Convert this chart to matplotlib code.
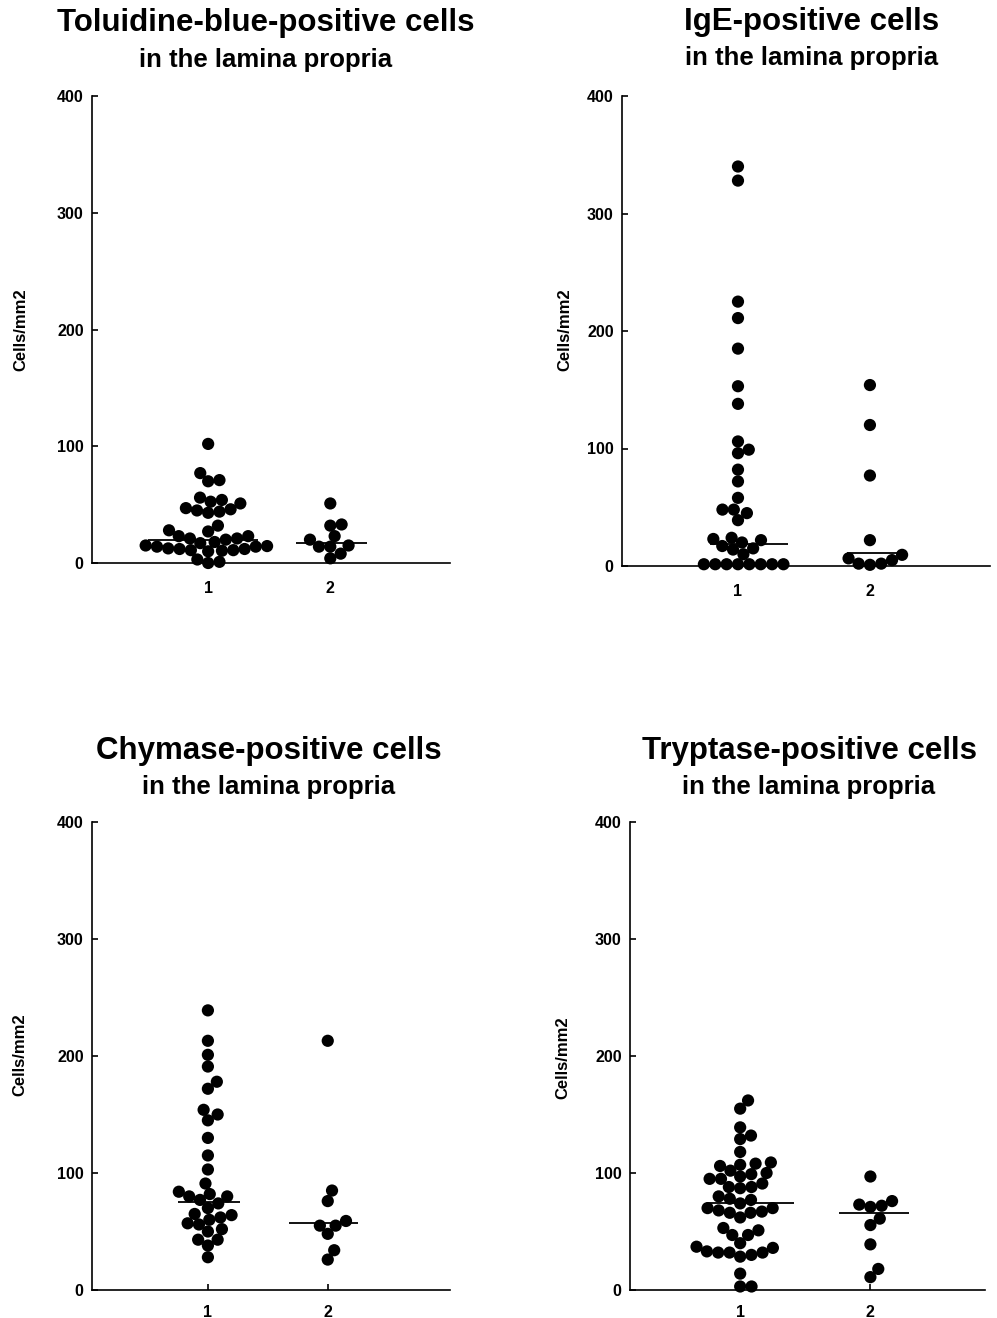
import numpy as np
import matplotlib
matplotlib.use("Agg")
import matplotlib.pyplot as plt

plt.rcParams['font.family'] = ['Liberation Sans', 'DejaVu Sans']
plt.rcParams['font.weight'] = 'bold'

# ---------------- data (cells/mm2) ----------------
categories = [1, 2]
tick_labels = ["1", "2"]
y_ticks = [0, 100, 200, 300, 400]

titles = ["Toluidine-blue-positive cells", "IgE-positive cells",
          "Chymase-positive cells", "Tryptase-positive cells"]
subtitle = "in the lamina propria"
ylabel = "Cells/mm2"

tb_group1 = [102, 77, 71, 70, 56, 54, 52.5, 51, 47, 46, 45, 44, 43, 32, 28, 27,
             23, 23, 21, 21, 20, 18, 17, 15, 14.5, 14, 14, 12.5, 12, 12, 11, 11,
             10.5, 10, 3, 1, 0]
tb_group2 = [51, 33, 32, 23, 20, 15, 14, 14, 8, 4]
tb_lines = [20, 17]

ige_group1 = [340, 328, 225, 211, 185, 153, 138, 106, 99, 96, 82, 72, 58, 48, 48,
              45, 39, 24, 23, 22, 20, 17, 15, 14, 10, 1.5, 1.5, 1.5, 1.5, 1.5,
              1.5, 1.5, 1.5]
ige_group2 = [154, 120, 77, 22, 9.5, 6.5, 5, 2, 2, 1]
ige_lines = [19, 11]

chy_group1 = [239, 213, 201, 191, 178, 172, 154, 150, 145, 130, 115, 103, 91, 84,
              82, 80, 80, 77, 74, 70, 65, 64, 62, 60, 57, 56, 52, 50, 43, 43, 38, 28]
chy_group2 = [213, 85, 76, 59, 55, 55, 48, 34, 26]
chy_lines = [75, 57]

try_group1 = [162, 155, 139, 132, 129, 118, 109, 108, 107, 106, 102, 100, 99, 97,
              95, 95, 91, 88, 88, 87, 80, 78, 77, 74, 70, 70, 68, 67, 66, 66, 62,
              53, 51, 47, 47, 40, 37, 36, 33, 32, 32, 32, 30, 28.5, 14, 3, 3]
try_group2 = [97, 76, 73, 72, 71, 61, 55.5, 39, 18, 11]
try_lines = [74, 65.5]

panels_data = [
    (tb_group1, tb_group2, tb_lines),
    (ige_group1, ige_group2, ige_lines),
    (chy_group1, chy_group2, chy_lines),
    (try_group1, try_group2, try_lines),
]

# ---------------- layout / style ----------------
W, H = 997, 1318
fig = plt.figure(figsize=(W / 100, H / 100), dpi=100)

# axes rectangles in pixels: (left, top, right, bottom)
rects_px = [(92, 96, 450, 563), (622, 96, 990, 566),
            (92, 822, 450, 1290), (630, 822, 985, 1290)]
xlims = [(0.049, 2.98), (0.121, 2.91), (0.033, 3.02), (0.154, 2.88)]
# median line extents (left, right) relative to category centre
line_ext = [[(-0.49, 0.41), (-0.28, 0.30)],
            [(-0.21, 0.38), (-0.17, 0.22)],
            [(-0.25, 0.27), (-0.32, 0.25)],
            [(-0.25, 0.41), (-0.24, 0.30)]]
title_pos = [(266, 31, 67), (812, 30, 65), (269, 759, 794), (809, 759, 794)]
ylabel_pos = [(21, 330), (565, 330), (20, 1055), (563, 1058)]
xpad = [13, 13, 10.5, 10.5]

dot_pt = 8.8
dot_px = dot_pt * 100 / 72.0


def swarm_offsets(ax, values, center, diam):
    pts = np.column_stack([np.full(len(values), center), values])
    ys = ax.transData.transform(pts)[:, 1]
    order = np.argsort(ys, kind="stable")
    placed = []
    xs = np.zeros(len(values))
    d2 = (0.93 * diam) ** 2
    for i in order:
        y = ys[i]
        cands = [0.0]
        for (px, py) in placed:
            dy = y - py
            if dy * dy < d2:
                dx = np.sqrt(d2 - dy * dy)
                cands += [px + dx, px - dx]
        cands.sort(key=abs)
        chosen = 0.0
        for c in cands:
            if all((c - px) ** 2 + (y - py) ** 2 >= d2 - 1e-6 for (px, py) in placed):
                chosen = c
                break
        xs[i] = chosen
        placed.append((chosen, y))
    ppu = ax.transData.transform((1, 0))[0] - ax.transData.transform((0, 0))[0]
    return xs / ppu


for k, (g1, g2, lines) in enumerate(panels_data):
    l, t, r, b = rects_px[k]
    ax = fig.add_axes([l / W, 1 - b / H, (r - l) / W, (b - t) / H])
    ax.set_xlim(*xlims[k])
    ax.set_ylim(0, 400)
    for s in ("top", "right"):
        ax.spines[s].set_visible(False)
    for s in ("left", "bottom"):
        ax.spines[s].set_linewidth(1.2)
    ax.set_yticks(y_ticks)
    ax.set_xticks(categories)
    ax.set_xticklabels(tick_labels)
    ax.tick_params(axis="both", direction="in", length=4.5, width=1.2,
                   labelsize=11.5)
    ax.tick_params(axis="y", pad=6)
    ax.tick_params(axis="x", pad=xpad[k])
    for lab in ax.get_xticklabels() + ax.get_yticklabels():
        lab.set_fontweight("bold")

    for j, (cat, vals) in enumerate(zip(categories, (g1, g2))):
        offs = swarm_offsets(ax, vals, cat, dot_px)
        ax.scatter(cat + offs, vals, s=dot_pt ** 2, color="black",
                   edgecolors="none", clip_on=False, zorder=3)
        lo, hi = line_ext[k][j]
        ax.hlines(lines[j], cat + lo, cat + hi, color="black", lw=1.3,
                  zorder=4)

    cx, ty1, ty2 = title_pos[k]
    fig.text(cx / W, 1 - ty1 / H, titles[k], ha="center", va="baseline",
             fontsize=22.5, fontweight="bold")
    fig.text(cx / W, 1 - ty2 / H, subtitle, ha="center", va="baseline",
             fontsize=18.5, fontweight="bold")
    lx, ly = ylabel_pos[k]
    fig.text(lx / W, 1 - ly / H, ylabel, rotation=90, ha="center",
             va="center", fontsize=12, fontweight="bold")

fig.savefig("out.png", dpi=100)
